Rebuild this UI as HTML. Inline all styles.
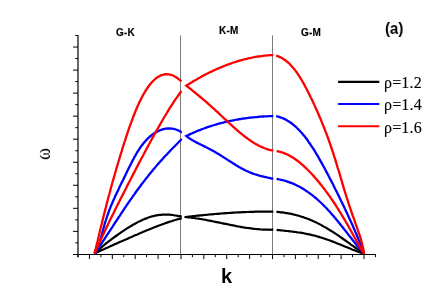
<!DOCTYPE html>
<html><head><meta charset="utf-8"><title>chart</title>
<style>
html,body{margin:0;padding:0;background:#fff;}
body{width:436px;height:305px;overflow:hidden;position:relative;font-family:"Liberation Sans",sans-serif;}
svg{position:absolute;left:0;top:0;}
.t{position:absolute;white-space:nowrap;color:#000;line-height:1;will-change:transform;}
.b{font-weight:bold;}
.s{font-family:"Liberation Serif",serif;}
</style></head><body>
<svg width="436" height="305" viewBox="0 0 436 305">
<rect width="436" height="305" fill="#fff"/>
<g stroke="#7c7c7c" stroke-width="1">
<line x1="180.5" y1="35.3" x2="180.5" y2="254.5"/>
<line x1="272.5" y1="35.3" x2="272.5" y2="254.5"/>
</g>
<path d="M94.5,253.5 L96.0,252.1 L97.5,250.7 L98.9,249.4 L100.4,248.1 L101.9,246.9 L103.4,245.6 L104.9,244.4 L106.3,243.2 L107.8,242.1 L109.3,240.9 L110.8,239.8 L112.3,238.7 L113.7,237.6 L115.2,236.5 L116.7,235.5 L118.2,234.4 L119.7,233.4 L121.1,232.4 L122.6,231.4 L124.1,230.4 L125.6,229.4 L127.1,228.4 L128.5,227.5 L130.0,226.6 L131.5,225.7 L133.0,224.8 L134.5,224.0 L135.9,223.2 L137.4,222.4 L138.9,221.6 L140.4,220.9 L141.8,220.2 L143.3,219.6 L144.8,218.9 L146.3,218.4 L147.8,217.8 L149.2,217.3 L150.7,216.8 L152.2,216.4 L153.7,216.0 L155.2,215.7 L156.6,215.4 L158.1,215.1 L159.6,214.9 L161.1,214.8 L162.6,214.7 L164.0,214.6 L165.5,214.6 L167.0,214.6 L168.5,214.6 L170.0,214.7 L171.4,214.9 L172.9,215.0 L174.4,215.3 L175.9,215.5 L177.4,215.8 L178.8,216.1 L180.3,216.4 L181.8,216.7" fill="none" stroke="#000000" stroke-width="2.2" stroke-linecap="butt" stroke-linejoin="round"/>
<path d="M94.5,253.5 L96.0,252.8 L97.5,252.1 L98.9,251.5 L100.4,250.8 L101.9,250.1 L103.4,249.4 L104.9,248.8 L106.3,248.1 L107.8,247.4 L109.3,246.8 L110.8,246.1 L112.3,245.4 L113.7,244.8 L115.2,244.1 L116.7,243.5 L118.2,242.8 L119.7,242.1 L121.1,241.5 L122.6,240.8 L124.1,240.2 L125.6,239.5 L127.1,238.9 L128.5,238.2 L130.0,237.6 L131.5,236.9 L133.0,236.3 L134.5,235.6 L135.9,235.0 L137.4,234.4 L138.9,233.7 L140.4,233.1 L141.8,232.5 L143.3,231.8 L144.8,231.2 L146.3,230.6 L147.8,230.0 L149.2,229.4 L150.7,228.8 L152.2,228.2 L153.7,227.6 L155.2,227.0 L156.6,226.4 L158.1,225.9 L159.6,225.3 L161.1,224.7 L162.6,224.2 L164.0,223.7 L165.5,223.1 L167.0,222.6 L168.5,222.1 L170.0,221.6 L171.4,221.2 L172.9,220.7 L174.4,220.2 L175.9,219.8 L177.4,219.4 L178.8,219.0 L180.3,218.6 L181.8,218.2" fill="none" stroke="#000000" stroke-width="2.2" stroke-linecap="butt" stroke-linejoin="round"/>
<path d="M273.3,211.6 L271.8,211.6 L270.3,211.6 L268.8,211.6 L267.3,211.6 L265.8,211.6 L264.4,211.6 L262.9,211.6 L261.4,211.6 L259.9,211.6 L258.4,211.7 L256.9,211.7 L255.4,211.7 L253.9,211.8 L252.4,211.8 L250.9,211.9 L249.4,211.9 L247.9,212.0 L246.5,212.0 L245.0,212.1 L243.5,212.1 L242.0,212.2 L240.5,212.3 L239.0,212.4 L237.5,212.4 L236.0,212.5 L234.5,212.6 L233.0,212.7 L231.5,212.8 L230.0,212.9 L228.6,213.0 L227.1,213.1 L225.6,213.2 L224.1,213.3 L222.6,213.4 L221.1,213.5 L219.6,213.6 L218.1,213.8 L216.6,213.9 L215.1,214.0 L213.6,214.1 L212.1,214.3 L210.7,214.4 L209.2,214.5 L207.7,214.7 L206.2,214.8 L204.7,215.0 L203.2,215.1 L201.7,215.3 L200.2,215.4 L198.7,215.6 L197.2,215.7 L195.7,215.9 L194.2,216.0 L192.8,216.2 L191.3,216.3 L189.8,216.5 L188.3,216.7 L186.8,216.8 L185.3,217.0 L186.8,217.1 L188.3,217.3 L189.8,217.5 L191.3,217.6 L192.8,217.8 L194.2,218.0 L195.7,218.3 L197.2,218.5 L198.7,218.7 L200.2,219.0 L201.7,219.2 L203.2,219.5 L204.7,219.7 L206.2,220.0 L207.7,220.3 L209.2,220.6 L210.7,220.9 L212.1,221.2 L213.6,221.5 L215.1,221.8 L216.6,222.1 L218.1,222.4 L219.6,222.7 L221.1,223.0 L222.6,223.3 L224.1,223.6 L225.6,223.9 L227.1,224.2 L228.6,224.5 L230.0,224.8 L231.5,225.1 L233.0,225.4 L234.5,225.7 L236.0,226.0 L237.5,226.3 L239.0,226.5 L240.5,226.8 L242.0,227.1 L243.5,227.3 L245.0,227.6 L246.5,227.8 L247.9,228.0 L249.4,228.2 L250.9,228.4 L252.4,228.6 L253.9,228.8 L255.4,229.0 L256.9,229.1 L258.4,229.2 L259.9,229.4 L261.4,229.5 L262.9,229.6 L264.4,229.6 L265.8,229.7 L267.3,229.7 L268.8,229.7 L270.3,229.8 L271.8,229.7 L273.3,229.7" fill="none" stroke="#000000" stroke-width="2.2" stroke-linecap="butt" stroke-linejoin="round" stroke-miterlimit="10"/>
<path d="M276.4,211.8 L277.9,211.9 L279.4,212.1 L280.9,212.3 L282.3,212.4 L283.8,212.6 L285.3,212.9 L286.8,213.1 L288.3,213.3 L289.8,213.6 L291.2,213.9 L292.7,214.2 L294.2,214.6 L295.7,215.0 L297.2,215.3 L298.7,215.8 L300.2,216.2 L301.6,216.7 L303.1,217.1 L304.6,217.7 L306.1,218.2 L307.6,218.8 L309.1,219.3 L310.5,220.0 L312.0,220.6 L313.5,221.3 L315.0,221.9 L316.5,222.6 L318.0,223.4 L319.5,224.1 L320.9,224.9 L322.4,225.7 L323.9,226.6 L325.4,227.4 L326.9,228.3 L328.4,229.2 L329.9,230.1 L331.3,231.0 L332.8,231.9 L334.3,232.9 L335.8,233.9 L337.3,234.9 L338.8,235.9 L340.2,236.9 L341.7,237.9 L343.2,239.0 L344.7,240.0 L346.2,241.1 L347.7,242.2 L349.2,243.2 L350.6,244.3 L352.1,245.4 L353.6,246.4 L355.1,247.5 L356.6,248.6 L358.1,249.6 L359.5,250.7 L361.0,251.7 L362.5,252.8 L364.0,253.8" fill="none" stroke="#000000" stroke-width="2.2" stroke-linecap="butt" stroke-linejoin="round"/>
<path d="M276.6,229.9 L278.1,230.1 L279.6,230.2 L281.0,230.4 L282.5,230.5 L284.0,230.7 L285.5,230.8 L287.0,231.0 L288.5,231.1 L289.9,231.3 L291.4,231.5 L292.9,231.7 L294.4,231.8 L295.9,232.0 L297.3,232.3 L298.8,232.5 L300.3,232.7 L301.8,232.9 L303.3,233.2 L304.7,233.5 L306.2,233.8 L307.7,234.1 L309.2,234.4 L310.7,234.7 L312.2,235.1 L313.6,235.4 L315.1,235.8 L316.6,236.2 L318.1,236.6 L319.6,237.1 L321.0,237.5 L322.5,238.0 L324.0,238.5 L325.5,239.0 L327.0,239.5 L328.4,240.0 L329.9,240.5 L331.4,241.1 L332.9,241.6 L334.4,242.2 L335.9,242.8 L337.3,243.4 L338.8,244.0 L340.3,244.6 L341.8,245.2 L343.3,245.8 L344.7,246.4 L346.2,247.0 L347.7,247.6 L349.2,248.2 L350.7,248.8 L352.1,249.4 L353.6,250.0 L355.1,250.6 L356.6,251.2 L358.1,251.7 L359.6,252.3 L361.0,252.8 L362.5,253.3 L364.0,253.8" fill="none" stroke="#000000" stroke-width="2.2" stroke-linecap="butt" stroke-linejoin="round"/>
<path d="M94.5,253.5 L95.7,251.8 L96.7,250.0 L97.6,248.1 L98.4,246.2 L99.1,244.2 L99.7,242.2 L100.3,240.2 L100.9,238.2 L101.5,236.2 L102.0,234.1 L102.5,232.1 L103.1,230.0 L103.6,227.9 L104.2,225.9 L104.7,223.9 L105.3,221.8 L106.0,219.8 L106.6,217.8 L107.3,215.8 L108.0,213.8 L108.7,211.8 L109.4,209.9 L110.2,207.9 L110.9,206.0 L111.8,204.1 L112.6,202.2 L113.4,200.3 L114.3,198.4 L115.1,196.5 L116.0,194.6 L116.9,192.7 L117.8,190.9 L118.7,189.0 L119.5,187.1 L120.4,185.3 L121.3,183.4 L122.3,181.5 L123.2,179.7 L124.1,177.8 L125.0,175.9 L125.9,174.0 L126.8,172.2 L127.7,170.3 L128.6,168.4 L129.6,166.5 L130.5,164.7 L131.5,162.8 L132.4,160.9 L133.4,159.1 L134.4,157.2 L135.5,155.4 L136.5,153.5 L137.6,151.7 L138.8,149.9 L139.9,148.2 L141.1,146.4 L142.4,144.7 L143.7,143.1 L145.0,141.5 L146.5,139.9 L147.9,138.4 L149.4,137.0 L151.0,135.7 L152.6,134.4 L154.3,133.3 L156.1,132.2 L157.9,131.2 L159.8,130.4 L161.7,129.7 L163.6,129.1 L165.6,128.7 L167.7,128.5 L169.7,128.4 L171.8,128.6 L173.8,128.9 L175.9,129.5 L177.9,130.3 L179.9,131.3 L181.8,132.6" fill="none" stroke="#0000ff" stroke-width="2.3" stroke-linecap="butt" stroke-linejoin="round"/>
<path d="M94.5,253.5 L96.0,251.4 L97.5,249.3 L98.9,247.1 L100.4,245.0 L101.9,242.8 L103.4,240.6 L104.9,238.3 L106.3,236.1 L107.8,233.8 L109.3,231.6 L110.8,229.3 L112.3,227.1 L113.7,224.8 L115.2,222.5 L116.7,220.3 L118.2,218.0 L119.7,215.8 L121.1,213.6 L122.6,211.3 L124.1,209.1 L125.6,206.9 L127.1,204.7 L128.5,202.6 L130.0,200.4 L131.5,198.3 L133.0,196.2 L134.5,194.1 L135.9,192.0 L137.4,190.0 L138.9,188.0 L140.4,186.0 L141.8,184.0 L143.3,182.1 L144.8,180.1 L146.3,178.2 L147.8,176.4 L149.2,174.5 L150.7,172.7 L152.2,170.9 L153.7,169.1 L155.2,167.4 L156.6,165.6 L158.1,163.9 L159.6,162.3 L161.1,160.6 L162.6,159.0 L164.0,157.3 L165.5,155.7 L167.0,154.2 L168.5,152.6 L170.0,151.0 L171.4,149.5 L172.9,148.0 L174.4,146.5 L175.9,145.0 L177.4,143.5 L178.8,142.0 L180.3,140.5 L181.8,139.0" fill="none" stroke="#0000ff" stroke-width="2.3" stroke-linecap="butt" stroke-linejoin="round"/>
<path d="M273.3,116.0 L271.8,116.1 L270.4,116.1 L268.9,116.2 L267.4,116.3 L265.9,116.3 L264.5,116.4 L263.0,116.5 L261.5,116.6 L260.0,116.7 L258.6,116.8 L257.1,117.0 L255.6,117.1 L254.1,117.3 L252.7,117.4 L251.2,117.6 L249.7,117.7 L248.2,117.9 L246.8,118.1 L245.3,118.3 L243.8,118.5 L242.3,118.7 L240.9,119.0 L239.4,119.2 L237.9,119.5 L236.4,119.7 L235.0,120.0 L233.5,120.3 L232.0,120.6 L230.5,120.9 L229.1,121.2 L227.6,121.5 L226.1,121.8 L224.6,122.2 L223.2,122.6 L221.7,122.9 L220.2,123.3 L218.7,123.7 L217.3,124.1 L215.8,124.6 L214.3,125.0 L212.8,125.5 L211.4,125.9 L209.9,126.4 L208.4,126.9 L206.9,127.4 L205.5,127.9 L204.0,128.5 L202.5,129.0 L201.0,129.6 L199.6,130.2 L198.1,130.7 L196.6,131.3 L195.1,132.0 L193.7,132.6 L192.2,133.3 L190.7,133.9 L189.2,134.6 L187.8,135.3 L186.3,136.0 L187.3,136.8 L188.3,137.5 L189.3,138.3 L190.3,138.9 L191.4,139.6 L192.4,140.2 L193.5,140.8 L194.6,141.4 L195.7,142.0 L196.8,142.6 L197.9,143.1 L199.0,143.7 L200.1,144.2 L201.2,144.8 L202.3,145.3 L203.4,145.9 L204.5,146.4 L205.6,147.0 L206.7,147.5 L207.8,148.1 L208.9,148.7 L210.0,149.2 L211.1,149.8 L212.2,150.4 L213.3,151.0 L214.3,151.6 L215.4,152.2 L216.5,152.9 L217.6,153.5 L218.6,154.1 L219.7,154.8 L220.7,155.4 L221.8,156.1 L222.8,156.8 L223.9,157.4 L224.9,158.1 L226.0,158.8 L227.0,159.4 L228.0,160.1 L229.1,160.8 L230.1,161.5 L231.2,162.1 L232.2,162.8 L233.3,163.5 L234.3,164.1 L235.4,164.8 L236.4,165.4 L237.5,166.1 L238.5,166.7 L239.6,167.3 L240.7,167.9 L241.8,168.5 L242.8,169.1 L243.9,169.6 L245.0,170.2 L246.1,170.7 L247.3,171.2 L248.4,171.7 L249.5,172.2 L250.6,172.7 L251.8,173.1 L252.9,173.6 L254.1,174.0 L255.3,174.4 L256.4,174.7 L257.6,175.1 L258.8,175.4 L260.0,175.8 L261.2,176.1 L262.4,176.4 L263.6,176.7 L264.8,177.0 L266.0,177.2 L267.3,177.5 L268.5,177.8 L269.7,178.0 L270.9,178.3 L272.1,178.5 L273.3,178.8" fill="none" stroke="#0000ff" stroke-width="2.3" stroke-linecap="butt" stroke-linejoin="miter" stroke-miterlimit="10"/>
<path d="M276.2,116.1 L278.3,116.6 L280.4,117.3 L282.3,118.0 L284.2,118.9 L286.1,119.8 L287.9,120.9 L289.7,122.0 L291.4,123.2 L293.0,124.5 L294.6,125.8 L296.2,127.2 L297.7,128.7 L299.2,130.2 L300.6,131.7 L302.1,133.3 L303.4,134.9 L304.8,136.6 L306.1,138.3 L307.4,140.0 L308.6,141.8 L309.8,143.5 L311.0,145.3 L312.2,147.1 L313.4,148.9 L314.5,150.7 L315.6,152.5 L316.7,154.4 L317.8,156.2 L318.9,158.1 L319.9,159.9 L321.0,161.8 L322.0,163.6 L323.0,165.5 L324.1,167.3 L325.1,169.2 L326.0,171.1 L327.0,172.9 L328.0,174.8 L329.0,176.7 L329.9,178.5 L330.9,180.4 L331.9,182.3 L332.8,184.1 L333.8,186.0 L334.7,187.9 L335.6,189.8 L336.6,191.6 L337.5,193.5 L338.5,195.4 L339.4,197.3 L340.3,199.2 L341.2,201.1 L342.2,203.0 L343.1,204.9 L344.0,206.8 L344.9,208.7 L345.8,210.7 L346.7,212.6 L347.6,214.5 L348.5,216.5 L349.4,218.4 L350.3,220.4 L351.2,222.4 L352.1,224.3 L353.0,226.3 L353.8,228.3 L354.7,230.3 L355.5,232.3 L356.4,234.2 L357.2,236.2 L358.0,238.2 L358.8,240.2 L359.6,242.2 L360.4,244.1 L361.1,246.1 L361.9,248.1 L362.6,250.0 L363.3,251.9 L364.0,253.8" fill="none" stroke="#0000ff" stroke-width="2.3" stroke-linecap="butt" stroke-linejoin="round"/>
<path d="M276.6,179.0 L278.1,179.2 L279.5,179.5 L281.0,179.8 L282.5,180.1 L283.9,180.5 L285.4,180.9 L286.8,181.3 L288.2,181.8 L289.6,182.3 L291.0,182.8 L292.4,183.4 L293.8,183.9 L295.1,184.6 L296.5,185.2 L297.8,185.9 L299.1,186.6 L300.4,187.3 L301.7,188.0 L303.0,188.8 L304.3,189.6 L305.5,190.4 L306.8,191.2 L308.0,192.1 L309.2,192.9 L310.4,193.8 L311.6,194.7 L312.8,195.7 L314.0,196.6 L315.1,197.5 L316.3,198.5 L317.4,199.5 L318.5,200.5 L319.6,201.5 L320.7,202.5 L321.8,203.5 L322.8,204.6 L323.9,205.6 L324.9,206.7 L326.0,207.8 L327.0,208.8 L328.0,209.9 L329.0,211.0 L330.0,212.1 L331.0,213.3 L332.0,214.4 L333.0,215.5 L333.9,216.6 L334.9,217.8 L335.9,218.9 L336.8,220.1 L337.8,221.2 L338.7,222.4 L339.7,223.5 L340.6,224.7 L341.5,225.9 L342.5,227.0 L343.4,228.2 L344.3,229.4 L345.2,230.6 L346.2,231.7 L347.1,232.9 L348.0,234.1 L348.9,235.3 L349.8,236.5 L350.8,237.6 L351.7,238.8 L352.6,240.0 L353.6,241.2 L354.5,242.3 L355.4,243.5 L356.4,244.7 L357.3,245.8 L358.3,247.0 L359.2,248.1 L360.2,249.3 L361.1,250.4 L362.1,251.5 L363.0,252.7 L364.0,253.8" fill="none" stroke="#0000ff" stroke-width="2.3" stroke-linecap="butt" stroke-linejoin="round"/>
<path d="M94.5,253.5 L95.0,251.4 L95.6,249.1 L96.2,246.7 L96.8,244.1 L97.5,241.5 L98.1,238.8 L98.8,236.1 L99.4,233.3 L100.1,230.5 L100.8,227.6 L101.5,224.7 L102.2,221.9 L102.9,219.0 L103.6,216.1 L104.3,213.3 L105.0,210.4 L105.8,207.6 L106.5,204.8 L107.2,202.0 L107.9,199.2 L108.6,196.5 L109.4,193.8 L110.1,191.2 L110.8,188.5 L111.5,185.9 L112.2,183.3 L112.9,180.8 L113.7,178.2 L114.4,175.7 L115.1,173.2 L115.8,170.7 L116.5,168.2 L117.3,165.7 L118.0,163.3 L118.7,160.8 L119.5,158.3 L120.2,155.8 L121.0,153.3 L121.8,150.8 L122.5,148.3 L123.3,145.8 L124.1,143.2 L125.0,140.7 L125.8,138.1 L126.6,135.5 L127.5,132.9 L128.4,130.2 L129.3,127.5 L130.3,124.8 L131.3,122.1 L132.3,119.4 L133.3,116.7 L134.4,114.0 L135.5,111.2 L136.6,108.5 L137.8,105.8 L139.0,103.1 L140.3,100.4 L141.6,97.8 L143.0,95.3 L144.4,92.7 L145.8,90.3 L147.4,88.0 L149.0,85.8 L150.6,83.7 L152.3,81.8 L154.1,80.0 L155.9,78.4 L157.8,77.0 L159.8,75.9 L161.9,75.0 L164.0,74.5 L166.3,74.2 L168.6,74.3 L171.0,74.8 L173.5,75.8 L176.1,77.2 L178.7,79.1 L181.5,81.5" fill="none" stroke="#ff0000" stroke-width="2.3" stroke-linecap="butt" stroke-linejoin="round"/>
<path d="M94.5,253.5 L96.0,250.2 L97.4,246.9 L98.9,243.7 L100.4,240.5 L101.9,237.3 L103.3,234.2 L104.8,231.0 L106.3,227.9 L107.8,224.9 L109.2,221.8 L110.7,218.8 L112.2,215.8 L113.7,212.8 L115.1,209.8 L116.6,206.8 L118.1,203.9 L119.6,200.9 L121.0,198.0 L122.5,195.1 L124.0,192.2 L125.5,189.3 L126.9,186.4 L128.4,183.5 L129.9,180.7 L131.4,177.8 L132.8,174.9 L134.3,172.1 L135.8,169.3 L137.3,166.4 L138.7,163.6 L140.2,160.8 L141.7,158.0 L143.2,155.2 L144.6,152.5 L146.1,149.7 L147.6,146.9 L149.1,144.2 L150.5,141.5 L152.0,138.8 L153.5,136.1 L155.0,133.4 L156.4,130.8 L157.9,128.2 L159.4,125.6 L160.9,123.0 L162.3,120.5 L163.8,118.0 L165.3,115.5 L166.8,113.0 L168.2,110.6 L169.7,108.2 L171.2,105.9 L172.7,103.6 L174.1,101.4 L175.6,99.2 L177.1,97.1 L178.6,95.0 L180.0,93.0 L181.5,91.0" fill="none" stroke="#ff0000" stroke-width="2.3" stroke-linecap="butt" stroke-linejoin="round"/>
<path d="M273.3,55.0 L271.8,55.1 L270.4,55.2 L268.9,55.3 L267.4,55.4 L265.9,55.6 L264.5,55.7 L263.0,55.9 L261.5,56.1 L260.0,56.3 L258.6,56.5 L257.1,56.7 L255.6,56.9 L254.1,57.2 L252.7,57.5 L251.2,57.8 L249.7,58.1 L248.2,58.4 L246.8,58.8 L245.3,59.1 L243.8,59.5 L242.3,59.9 L240.9,60.3 L239.4,60.7 L237.9,61.1 L236.4,61.6 L235.0,62.1 L233.5,62.5 L232.0,63.0 L230.5,63.6 L229.1,64.1 L227.6,64.6 L226.1,65.2 L224.6,65.8 L223.2,66.4 L221.7,67.0 L220.2,67.6 L218.7,68.2 L217.3,68.9 L215.8,69.5 L214.3,70.2 L212.8,70.9 L211.4,71.6 L209.9,72.3 L208.4,73.0 L206.9,73.8 L205.5,74.5 L204.0,75.3 L202.5,76.1 L201.0,76.9 L199.6,77.7 L198.1,78.5 L196.6,79.4 L195.1,80.2 L193.7,81.1 L192.2,82.0 L190.7,82.9 L189.2,83.8 L187.8,84.7 L186.3,85.6 L187.4,86.5 L188.4,87.3 L189.5,88.2 L190.6,89.0 L191.7,89.9 L192.8,90.8 L193.8,91.7 L194.9,92.5 L196.0,93.4 L197.1,94.3 L198.2,95.2 L199.2,96.1 L200.3,97.0 L201.4,97.9 L202.5,98.8 L203.5,99.7 L204.6,100.6 L205.6,101.5 L206.7,102.4 L207.8,103.4 L208.8,104.3 L209.8,105.2 L210.9,106.1 L211.9,107.1 L213.0,108.0 L214.0,108.9 L215.0,109.9 L216.0,110.8 L217.0,111.7 L218.1,112.7 L219.1,113.6 L220.1,114.6 L221.1,115.5 L222.1,116.5 L223.1,117.4 L224.1,118.4 L225.1,119.3 L226.2,120.2 L227.2,121.2 L228.2,122.1 L229.2,123.1 L230.2,124.0 L231.2,124.9 L232.3,125.9 L233.3,126.8 L234.3,127.7 L235.3,128.7 L236.4,129.6 L237.4,130.5 L238.5,131.4 L239.5,132.3 L240.6,133.2 L241.7,134.1 L242.8,134.9 L243.8,135.8 L244.9,136.6 L246.0,137.5 L247.2,138.3 L248.3,139.1 L249.4,139.9 L250.6,140.7 L251.7,141.5 L252.9,142.2 L254.1,143.0 L255.3,143.7 L256.5,144.4 L257.7,145.0 L258.9,145.7 L260.2,146.3 L261.4,146.9 L262.7,147.4 L264.0,148.0 L265.3,148.5 L266.6,148.9 L267.9,149.4 L269.2,149.8 L270.6,150.1 L271.9,150.4 L273.3,150.7" fill="none" stroke="#ff0000" stroke-width="2.3" stroke-linecap="butt" stroke-linejoin="miter" stroke-miterlimit="10"/>
<path d="M276.2,55.6 L278.9,56.6 L281.4,57.8 L283.8,59.2 L286.0,60.8 L288.1,62.5 L290.1,64.4 L291.9,66.4 L293.7,68.4 L295.4,70.6 L297.0,72.8 L298.6,75.1 L300.1,77.5 L301.5,79.8 L302.9,82.3 L304.3,84.7 L305.6,87.2 L307.0,89.7 L308.2,92.2 L309.5,94.7 L310.7,97.3 L312.0,99.8 L313.2,102.4 L314.3,104.9 L315.5,107.5 L316.6,110.0 L317.8,112.6 L318.9,115.2 L320.0,117.7 L321.1,120.3 L322.1,122.9 L323.2,125.5 L324.2,128.1 L325.2,130.6 L326.2,133.2 L327.2,135.8 L328.2,138.5 L329.1,141.1 L330.0,143.7 L330.9,146.4 L331.8,149.0 L332.7,151.7 L333.6,154.3 L334.4,157.0 L335.3,159.7 L336.1,162.4 L336.9,165.1 L337.7,167.8 L338.6,170.5 L339.4,173.2 L340.2,175.9 L341.0,178.6 L341.8,181.3 L342.6,184.1 L343.4,186.8 L344.2,189.5 L345.0,192.2 L345.9,194.9 L346.7,197.6 L347.6,200.2 L348.4,202.9 L349.3,205.6 L350.2,208.2 L351.1,210.9 L352.0,213.5 L352.9,216.1 L353.9,218.7 L354.8,221.3 L355.7,224.0 L356.6,226.6 L357.5,229.2 L358.4,231.8 L359.3,234.4 L360.2,237.0 L361.0,239.7 L361.7,242.4 L362.4,245.2 L363.1,248.0 L363.6,250.8 L364.0,253.8" fill="none" stroke="#ff0000" stroke-width="2.3" stroke-linecap="butt" stroke-linejoin="round"/>
<path d="M276.6,151.1 L278.4,151.4 L280.1,151.9 L281.8,152.4 L283.5,152.9 L285.1,153.6 L286.7,154.3 L288.3,155.0 L289.8,155.8 L291.3,156.7 L292.8,157.6 L294.3,158.5 L295.7,159.5 L297.1,160.5 L298.5,161.6 L299.8,162.7 L301.2,163.8 L302.5,164.9 L303.8,166.1 L305.1,167.3 L306.4,168.5 L307.6,169.7 L308.9,171.0 L310.1,172.2 L311.3,173.5 L312.5,174.8 L313.7,176.1 L314.8,177.4 L316.0,178.7 L317.1,180.1 L318.3,181.4 L319.4,182.8 L320.5,184.2 L321.6,185.5 L322.6,186.9 L323.7,188.3 L324.8,189.7 L325.8,191.1 L326.9,192.5 L327.9,193.9 L328.9,195.3 L329.9,196.7 L330.9,198.2 L331.9,199.6 L332.9,201.0 L333.9,202.5 L334.8,203.9 L335.8,205.4 L336.7,206.9 L337.7,208.3 L338.6,209.8 L339.5,211.3 L340.5,212.8 L341.4,214.3 L342.3,215.8 L343.2,217.3 L344.1,218.8 L345.0,220.3 L345.8,221.8 L346.7,223.3 L347.6,224.9 L348.5,226.4 L349.3,228.0 L350.2,229.5 L351.0,231.0 L351.9,232.6 L352.7,234.1 L353.6,235.7 L354.4,237.2 L355.3,238.8 L356.1,240.3 L357.0,241.9 L357.9,243.4 L358.7,244.9 L359.6,246.4 L360.4,247.9 L361.3,249.4 L362.2,250.9 L363.1,252.4 L364.0,253.8" fill="none" stroke="#ff0000" stroke-width="2.3" stroke-linecap="butt" stroke-linejoin="round"/>
<g stroke="#000" stroke-width="1.0" fill="none">
<line x1="78" y1="35" x2="78" y2="257.2" stroke-width="1.2"/>
<line x1="73" y1="254.5" x2="376" y2="254.5"/>
</g>
<g stroke="#000" stroke-width="1.0" fill="none">
<line x1="75.3" y1="242.88" x2="78" y2="242.88"/>
<line x1="73.0" y1="231.36" x2="78" y2="231.36"/>
<line x1="75.3" y1="219.84" x2="78" y2="219.84"/>
<line x1="73.0" y1="208.32" x2="78" y2="208.32"/>
<line x1="75.3" y1="196.8" x2="78" y2="196.8"/>
<line x1="73.0" y1="185.28" x2="78" y2="185.28"/>
<line x1="75.3" y1="173.76" x2="78" y2="173.76"/>
<line x1="73.0" y1="162.24" x2="78" y2="162.24"/>
<line x1="75.3" y1="150.72" x2="78" y2="150.72"/>
<line x1="73.0" y1="139.2" x2="78" y2="139.2"/>
<line x1="75.3" y1="127.68" x2="78" y2="127.68"/>
<line x1="73.0" y1="116.16" x2="78" y2="116.16"/>
<line x1="75.3" y1="104.64" x2="78" y2="104.64"/>
<line x1="73.0" y1="93.12" x2="78" y2="93.12"/>
<line x1="75.3" y1="81.6" x2="78" y2="81.6"/>
<line x1="73.0" y1="70.08" x2="78" y2="70.08"/>
<line x1="75.3" y1="58.56" x2="78" y2="58.56"/>
<line x1="73.0" y1="47.04" x2="78" y2="47.04"/>
<line x1="75.3" y1="35.52" x2="78" y2="35.52"/>
<line x1="78.0" y1="254.5" x2="78.0" y2="257.2"/>
<line x1="89.44" y1="254.5" x2="89.44" y2="259.1"/>
<line x1="100.88" y1="254.5" x2="100.88" y2="257.2"/>
<line x1="112.32" y1="254.5" x2="112.32" y2="259.1"/>
<line x1="123.76" y1="254.5" x2="123.76" y2="257.2"/>
<line x1="135.2" y1="254.5" x2="135.2" y2="259.1"/>
<line x1="146.64" y1="254.5" x2="146.64" y2="257.2"/>
<line x1="158.08" y1="254.5" x2="158.08" y2="259.1"/>
<line x1="169.52" y1="254.5" x2="169.52" y2="257.2"/>
<line x1="180.96" y1="254.5" x2="180.96" y2="259.1"/>
<line x1="192.4" y1="254.5" x2="192.4" y2="257.2"/>
<line x1="203.84" y1="254.5" x2="203.84" y2="259.1"/>
<line x1="215.28" y1="254.5" x2="215.28" y2="257.2"/>
<line x1="226.72" y1="254.5" x2="226.72" y2="259.1"/>
<line x1="238.16" y1="254.5" x2="238.16" y2="257.2"/>
<line x1="249.6" y1="254.5" x2="249.6" y2="259.1"/>
<line x1="261.04" y1="254.5" x2="261.04" y2="257.2"/>
<line x1="272.48" y1="254.5" x2="272.48" y2="259.1"/>
<line x1="283.92" y1="254.5" x2="283.92" y2="257.2"/>
<line x1="295.36" y1="254.5" x2="295.36" y2="259.1"/>
<line x1="306.8" y1="254.5" x2="306.8" y2="257.2"/>
<line x1="318.24" y1="254.5" x2="318.24" y2="259.1"/>
<line x1="329.68" y1="254.5" x2="329.68" y2="257.2"/>
<line x1="341.12" y1="254.5" x2="341.12" y2="259.1"/>
<line x1="352.56" y1="254.5" x2="352.56" y2="257.2"/>
<line x1="364.0" y1="254.5" x2="364.0" y2="259.1"/>
<line x1="375.44" y1="254.5" x2="375.44" y2="257.2"/>
</g>
<g stroke-linecap="butt">
<line x1="338.1" x2="379.3" y1="81.85" y2="81.85" stroke="#000000" stroke-width="2.4"/>
<line x1="338.1" x2="379.3" y1="104.05" y2="104.05" stroke="#0000ff" stroke-width="1.9"/>
<line x1="338.1" x2="379.3" y1="126.25" y2="126.25" stroke="#ff0000" stroke-width="1.9"/>
</g>

</svg>
<div class='t b' style='left:115.6px;top:28.3px;font-size:10px;letter-spacing:0.25px;-webkit-text-stroke:0.15px #000;'>G-K</div>
<div class='t b' style='left:218.6px;top:26.3px;font-size:10px;letter-spacing:0.25px;-webkit-text-stroke:0.15px #000;'>K-M</div>
<div class='t b' style='left:300.8px;top:28.3px;font-size:10px;letter-spacing:0.25px;-webkit-text-stroke:0.15px #000;'>G-M</div>
<div class='t b' style='left:384.5px;top:20.6px;font-size:16px;transform:scale(0.935,1);transform-origin:0 0;'>(a)</div>
<div class='t b' style='left:221.0px;top:266.0px;font-size:20px;'>k</div>
<div class='t s' style='left:383.5px;top:75.2px;font-size:16px;letter-spacing:0.16px;-webkit-text-stroke:0.12px #000;'>ρ=1.2</div>
<div class='t s' style='left:383.5px;top:97.4px;font-size:16px;letter-spacing:0.16px;-webkit-text-stroke:0.12px #000;'>ρ=1.4</div>
<div class='t s' style='left:383.5px;top:119.6px;font-size:16px;letter-spacing:0.16px;-webkit-text-stroke:0.12px #000;'>ρ=1.6</div>
<div class='t s' id='om' style='left:31px;top:142.2px;font-size:22px;width:24px;height:24px;line-height:24px;text-align:center;transform:rotate(-90deg) scale(0.81,1)'>ω</div>
</body></html>
